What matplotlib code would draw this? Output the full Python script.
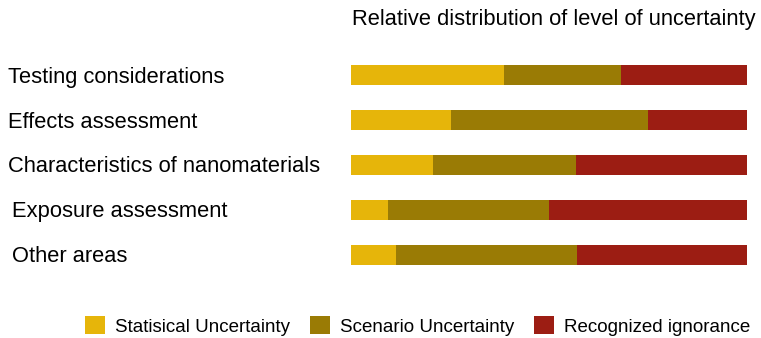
import matplotlib.pyplot as plt
from matplotlib.patches import Patch

plt.rcParams['font.family'] = ['Liberation Sans', 'DejaVu Sans']

# percentages of each level of uncertainty
areas = ['Testing considerations', 'Effects assessment',
         'Characteristics of nanomaterials', 'Exposure assessment', 'Other areas']
statistical = [38.6, 25.3, 20.6, 9.4, 11.4]
scenario = [29.6, 49.8, 36.1, 40.6, 45.7]
ignorance = [31.8, 24.9, 43.3, 50.0, 42.9]
series_names = ['Statisical Uncertainty', 'Scenario Uncertainty', 'Recognized ignorance']
colors = ['#E6B50A', '#9A7B05', '#9C1D13']

W, H = 761, 338
fig = plt.figure(figsize=(W / 100, H / 100), dpi=100)

# axes holding only the bars
ax = fig.add_axes([351 / W, 1 - 277.5 / H, 396 / W, 225 / H])
ypos = list(range(len(areas)))
left = [0.0] * len(areas)
for vals, col in zip([statistical, scenario, ignorance], colors):
    ax.barh(ypos, vals, left=left, height=0.43, color=col, edgecolor='none')
    left = [l + v for l, v in zip(left, vals)]
ax.set_xlim(0, 100)
ax.set_ylim(len(areas) - 0.5, -0.5)
ax.axis('off')

# category labels at the left edge
label_x = [8, 8, 8, 12, 12]
for i, name in enumerate(areas):
    yfig = 1 - (77 + 45 * i) / H
    fig.text(label_x[i] / W, yfig, name, fontsize=15.75, ha='left', va='center')

fig.text(352 / W, 1 - 20 / H, 'Relative distribution of level of uncertainty',
         fontsize=15.75, ha='left', va='center')

handles = [Patch(facecolor=c, edgecolor='none') for c in colors]
fig.legend(handles, series_names, loc='center', ncol=3,
           bbox_to_anchor=(0.549, 1 - 326 / H), frameon=False, fontsize=13.5,
           handlelength=1.07, handleheight=1.07, handletextpad=0.53,
           columnspacing=1.07, borderpad=0.2)

fig.savefig('out.png', dpi=100, facecolor='white')
